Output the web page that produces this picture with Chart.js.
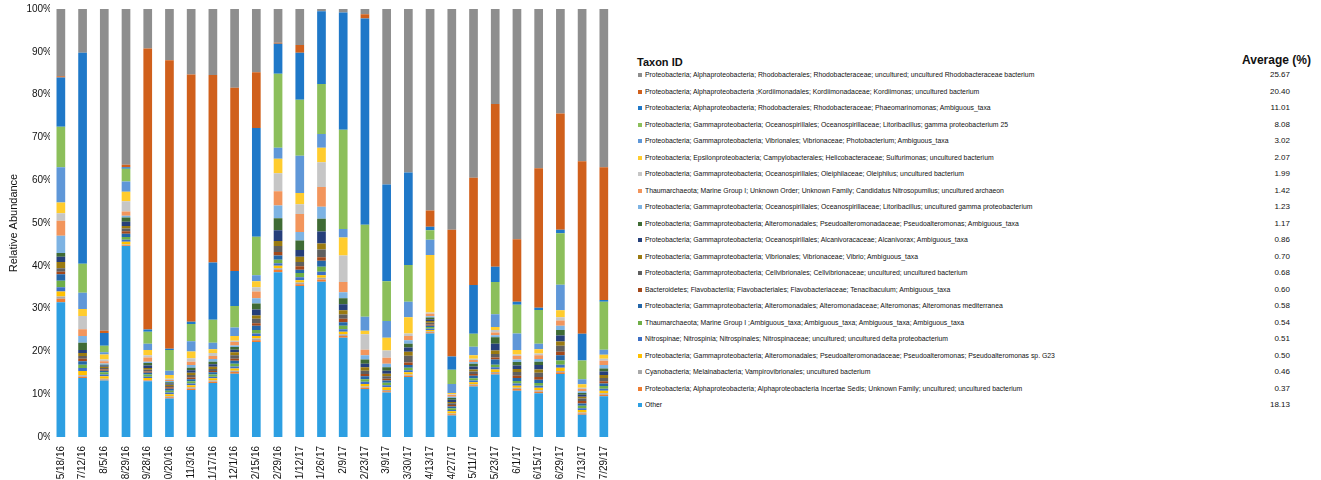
<!DOCTYPE html>
<html>
<head>
<meta charset="utf-8">
<script src="https://cdn.jsdelivr.net/npm/chart.js@4.4.1/dist/chart.umd.min.js"></script>
<style>
  html, body { margin: 0; padding: 0; background: #fff; width: 1321px; height: 480px; overflow: hidden; }
  #plot { position: absolute; left: 0; top: 0; }
  #legend { position: absolute; left: 0; top: 0; font-family: "Liberation Sans", Arial, sans-serif; color: #111; }
  .hdr { position: absolute; font-weight: bold; font-size: 11px; line-height: 12px; white-space: nowrap; }
  .row { position: absolute; left: 638px; height: 10px; font-size: 8px; line-height: 10px; white-space: nowrap; }
  .sw { position: absolute; left: 0; top: 3px; width: 4px; height: 4px; }
  .txt { position: absolute; left: 7px; top: 0; display: inline-block; transform: scaleX(0.855); transform-origin: 0 0; }
  .val { position: absolute; width: 60px; top: 0; text-align: right; font-size: 8px; line-height: 10px; }
</style>
</head>
<body>
<canvas id="plot" width="625" height="500"></canvas>
<div id="legend"></div>
<script>
// Sampling dates
const categories = ['5/18/16','7/12/16','8/5/16','8/29/16','9/28/16','10/20/16','11/3/16','11/17/16','12/1/16','12/15/16','12/29/16','1/12/17','1/26/17','2/9/17','2/23/17','3/9/17','3/30/17','4/13/17','4/27/17','5/11/17','5/23/17','6/1/17','6/15/17','6/29/17','7/13/17','7/29/17'];

// Relative abundance (%) per taxon, one value per sampling date
const rhodobacteraceaeUncultured = [15.7,10.2,75.2,36.4,9.2,12.0,15.3,15.4,18.4,14.8,7.9,8.4,0.5,0.8,1.2,41.0,38.2,47.1,51.6,39.4,22.2,53.8,37.2,24.4,35.6,37.0];
const kordiimonas = [0.3,0,0.5,0.6,65.7,67.4,57.8,43.8,42.8,13.0,0.2,1.8,0,0,1.0,0,0,3.8,29.6,25.1,38.0,14.6,32.6,27.2,40.3,31.0];
const phaeomarinomonas = [11.5,49.3,3.0,0.3,0.5,0.3,0.5,13.4,8.2,25.4,7.0,11.0,17.0,27.4,48.2,22.6,21.6,0.8,3.1,11.4,3.6,0.7,0.5,0.8,6.2,0.4];
const litoribacillusGamma25 = [9.5,6.8,1.5,3.0,2.8,4.8,4.0,5.4,5.0,9.0,17.3,13.1,11.7,23.2,21.5,9.3,8.6,2.2,3.3,3.0,7.5,6.7,7.9,12.0,4.4,11.2];
const photobacterium = [8.2,3.8,0.5,2.4,1.5,1.0,2.4,1.5,2.0,1.4,2.6,8.7,3.2,2.0,3.3,3.9,3.6,3.6,2.1,2.0,3.0,3.9,1.3,6.0,1.2,1.2];
const sulfurimonas = [2.5,1.6,1.2,2.2,1.2,0.9,1.6,0.9,1.1,1.4,3.4,2.6,3.4,4.2,0.8,3.0,3.8,13.4,0.3,0.8,0.7,1.0,1.0,1.6,0.8,0.9];
const oleiphilus = [1.8,3.1,0.4,2.4,0.5,0.3,0.8,0.7,0.3,1.0,4.2,2.3,5.8,6.2,3.6,1.7,0.6,0.3,0.2,0.3,0.6,0.4,0.4,0.8,0.3,0.5];
const nitrosopumilus = [3.5,1.6,0.5,1.0,1.0,0.2,0.8,0.7,0.8,1.6,3.3,4.2,4.6,2.4,1.3,1.4,1.0,0.6,0.4,0.5,0.6,0.8,0.9,1.2,0.5,1.0];
const litoribacillusUncultured = [4.0,1.6,0.3,0.4,0.3,0.3,0.6,0.6,0.4,1.2,3.0,2.0,2.8,1.4,1.0,0.8,0.8,0.3,0.3,0.4,0.5,0.6,0.6,1.0,0.4,0.8];
const pseudoalteromonasAmbiguous = [0.9,1.7,0.2,1.0,0.6,0.3,0.6,0.6,0.6,1.4,2.8,2.2,3.0,1.4,1.0,0.8,0.9,0.4,0.4,0.6,1.5,0.8,0.8,1.3,0.4,0.7];
const alcanivorax = [1.2,0.7,0.3,1.0,0.6,0.3,0.6,0.6,0.6,1.4,2.5,1.6,2.8,1.4,0.8,0.7,1.0,0.4,0.5,0.7,1.6,0.8,1.0,1.4,0.5,0.8];
const vibrio = [1.5,0.7,0.3,0.6,0.4,0.3,0.5,0.5,0.7,0.8,1.2,1.2,1.4,1.0,0.8,0.6,0.9,0.4,0.3,0.5,0.8,0.7,0.8,1.0,0.4,0.7];
const cellvibrionaceae = [0.8,0.6,0.3,0.6,0.4,0.3,0.6,0.5,0.8,1.0,1.4,1.0,1.8,1.0,0.8,0.6,1.6,0.4,0.4,0.6,0.8,0.9,1.0,1.4,0.6,0.8];
const tenacibaculum = [0.6,0.6,0.3,0.6,0.3,0.3,0.4,0.3,0.5,0.6,0.8,0.8,0.8,0.8,0.5,0.4,0.6,0.3,0.4,0.4,0.5,0.5,0.6,0.8,0.6,0.5];
const alteromonas = [1.5,0.8,0.4,0.8,0.4,0.5,0.5,0.5,0.7,1.0,1.0,0.8,1.4,0.8,0.7,0.5,0.6,0.3,0.4,0.6,1.2,0.7,0.8,1.2,0.5,0.6];
const thaumarchaeotaAmbiguous = [1.5,0.8,0.5,0.6,0.5,0.4,0.5,0.5,0.6,0.8,0.8,1.0,1.2,0.8,0.6,0.6,0.6,0.4,0.4,0.5,0.6,0.6,0.6,1.0,0.6,0.6];
const nitrospinaceae = [1.0,0.7,0.4,0.5,0.3,0.4,0.4,0.4,0.5,0.6,0.6,0.7,0.8,0.6,0.5,0.5,0.5,0.3,0.3,0.4,0.5,0.5,0.5,0.7,0.4,0.5];
const pseudoalteromonasG23 = [1.2,1.0,0.6,0.6,0.5,0.5,0.5,0.5,0.5,0.6,0.6,0.5,0.6,0.6,0.6,0.6,0.5,0.3,0.5,0.5,0.6,0.5,0.6,0.8,0.6,0.6];
const vampirovibrionales = [0.5,0.3,0.2,0.2,0.1,0.2,0.3,0.3,0.3,0.4,0.4,0.4,0.4,0.4,0.3,0.3,0.3,0.2,0.2,0.2,0.3,0.3,0.3,0.3,0.2,0.3];
const alphaIncertaeSedis = [0.8,0.3,0.2,0.2,0.2,0.3,0.3,0.3,0.4,0.4,0.5,0.4,0.5,0.4,0.3,0.3,0.3,0.3,0.3,0.3,0.3,0.4,0.4,0.4,0.3,0.4];
const other = [31.5,13.8,13.2,44.6,13.0,9.0,11.0,12.6,14.8,22.2,38.5,35.3,36.3,23.2,11.2,10.4,14.0,24.2,5.0,11.8,14.6,10.8,10.2,14.7,5.2,9.5];

// Taxon labels and averages, listed top of stack first
const taxonNames = [
  'Proteobacteria; Alphaproteobacteria; Rhodobacterales; Rhodobacteraceae; uncultured; uncultured Rhodobacteraceae bacterium',
  'Proteobacteria; Alphaproteobacteria ;Kordiimonadales; Kordiimonadaceae; Kordiimonas; uncultured bacterium',
  'Proteobacteria; Alphaproteobacteria; Rhodobacterales; Rhodobacteraceae; Phaeomarinomonas; Ambiguous_taxa',
  'Proteobacteria; Gammaproteobacteria; Oceanospirillales; Oceanospirillaceae; Litoribacillus; gamma proteobacterium 25',
  'Proteobacteria; Gammaproteobacteria; Vibrionales; Vibrionaceae; Photobacterium; Ambiguous_taxa',
  'Proteobacteria; Epsilonproteobacteria; Campylobacterales; Helicobacteraceae; Sulfurimonas; uncultured bacterium',
  'Proteobacteria; Gammaproteobacteria; Oceanospirillales; Oleiphilaceae; Oleiphilus; uncultured bacterium',
  'Thaumarchaeota; Marine Group I; Unknown Order; Unknown Family; Candidatus Nitrosopumilus; uncultured archaeon',
  'Proteobacteria; Gammaproteobacteria; Oceanospirillales; Oceanospirillaceae; Litoribacillus; uncultured gamma proteobacterium',
  'Proteobacteria; Gammaproteobacteria; Alteromonadales; Pseudoalteromonadaceae; Pseudoalteromonas; Ambiguous_taxa',
  'Proteobacteria; Gammaproteobacteria; Oceanospirillales; Alcanivoracaceae; Alcanivorax; Ambiguous_taxa',
  'Proteobacteria; Gammaproteobacteria; Vibrionales; Vibrionaceae; Vibrio; Ambiguous_taxa',
  'Proteobacteria; Gammaproteobacteria; Cellvibrionales; Cellvibrionaceae; uncultured; uncultured bacterium',
  'Bacteroidetes; Flavobacteriia; Flavobacteriales; Flavobacteriaceae; Tenacibaculum; Ambiguous_taxa',
  'Proteobacteria; Gammaproteobacteria; Alteromonadales; Alteromonadaceae; Alteromonas; Alteromonas mediterranea',
  'Thaumarchaeota; Marine Group I ;Ambiguous_taxa; Ambiguous_taxa; Ambiguous_taxa; Ambiguous_taxa',
  'Nitrospinae; Nitrospinia; Nitrospinales; Nitrospinaceae; uncultured; uncultured delta proteobacterium',
  'Proteobacteria; Gammaproteobacteria; Alteromonadales; Pseudoalteromonadaceae; Pseudoalteromonas; Pseudoalteromonas sp. G23',
  'Cyanobacteria; Melainabacteria; Vampirovibrionales; uncultured bacterium',
  'Proteobacteria; Alphaproteobacteria; Alphaproteobacteria Incertae Sedis; Unknown Family; uncultured; uncultured bacterium',
  'Other'
];
const averages = ['25.67','20.40','11.01','8.08','3.02','2.07','1.99','1.42','1.23','1.17','0.86','0.70','0.68','0.60','0.58','0.54','0.51','0.50','0.46','0.37','18.13'];

// Series in the same top-to-bottom order as taxonNames
const seriesTopDown = [
  rhodobacteraceaeUncultured, kordiimonas, phaeomarinomonas, litoribacillusGamma25, photobacterium,
  sulfurimonas, oleiphilus, nitrosopumilus, litoribacillusUncultured, pseudoalteromonasAmbiguous,
  alcanivorax, vibrio, cellvibrionaceae, tenacibaculum, alteromonas, thaumarchaeotaAmbiguous,
  nitrospinaceae, pseudoalteromonasG23, vampirovibrionales, alphaIncertaeSedis, other
];
const colorsTopDown = [
  '#8e8e8e', '#d0601c', '#1f78c8', '#8cbf5b', '#5f97d8',
  '#ffcc2e', '#c6c6c6', '#f2955c', '#7db3e3', '#3f6b35',
  '#263f7a', '#9a7a10', '#5f5f5f', '#a3481a', '#2466a8', '#6fae47',
  '#3d6fc4', '#ffc000', '#a8a8a8', '#ee7d31', '#2d9fe2'
];

// Chart.js stacks the first dataset at the bottom, so build from the bottom up
const datasets = seriesTopDown.map((data, i) => ({
  label: taxonNames[i],
  data: data,
  backgroundColor: colorsTopDown[i],
  borderWidth: 0,
  barPercentage: 0.4,
  categoryPercentage: 1.0
})).reverse();

const FONT = '"Liberation Sans", Arial, sans-serif';

new Chart(document.getElementById('plot'), {
  type: 'bar',
  data: { labels: categories, datasets: datasets },
  options: {
    responsive: false,
    animation: false,
    devicePixelRatio: 1,
    layout: { padding: { top: 9, right: 9, bottom: 0, left: 0 } },
    plugins: { legend: { display: false }, tooltip: { enabled: false } },
    scales: {
      x: {
        stacked: true,
        grid: { display: false, drawTicks: false },
        border: { display: false },
        ticks: {
          autoSkip: false, minRotation: 90, maxRotation: 90, padding: 9,
          color: '#111', font: { family: FONT, size: 10 }
        },
        afterFit: (scale) => { scale.height = 63; }
      },
      y: {
        stacked: true,
        min: 0, max: 100,
        grid: { display: false, drawTicks: false },
        border: { display: false },
        ticks: {
          stepSize: 10, padding: -2,
          color: '#111', font: { family: FONT, size: 10 },
          callback: (v) => v + '%'
        },
        title: {
          display: true, text: 'Relative Abundance',
          color: '#111', font: { family: FONT, size: 11 },
          padding: { top: 7, bottom: 0 }
        },
        afterFit: (scale) => { scale.width = 50; }
      }
    }
  }
});

// Taxon legend table
const legend = document.getElementById('legend');
const h1 = document.createElement('div');
h1.className = 'hdr'; h1.style.left = '637px'; h1.style.top = '56px'; h1.textContent = 'Taxon ID';
legend.appendChild(h1);
const h2 = document.createElement('div');
h2.className = 'hdr'; h2.style.left = '1242px'; h2.style.top = '54px'; h2.style.fontSize = '12px'; h2.textContent = 'Average (%)';
legend.appendChild(h2);
taxonNames.forEach((name, i) => {
  const row = document.createElement('div');
  row.className = 'row';
  row.style.top = (75 + 16.5 * i - 5) + 'px';
  const sw = document.createElement('span');
  sw.className = 'sw'; sw.style.background = colorsTopDown[i];
  const txt = document.createElement('span');
  txt.className = 'txt'; txt.textContent = name;
  const val = document.createElement('span');
  val.className = 'val'; val.style.left = (1230 - 638) + 'px'; val.textContent = averages[i];
  row.appendChild(sw); row.appendChild(txt); row.appendChild(val);
  legend.appendChild(row);
});
</script>
</body>
</html>
